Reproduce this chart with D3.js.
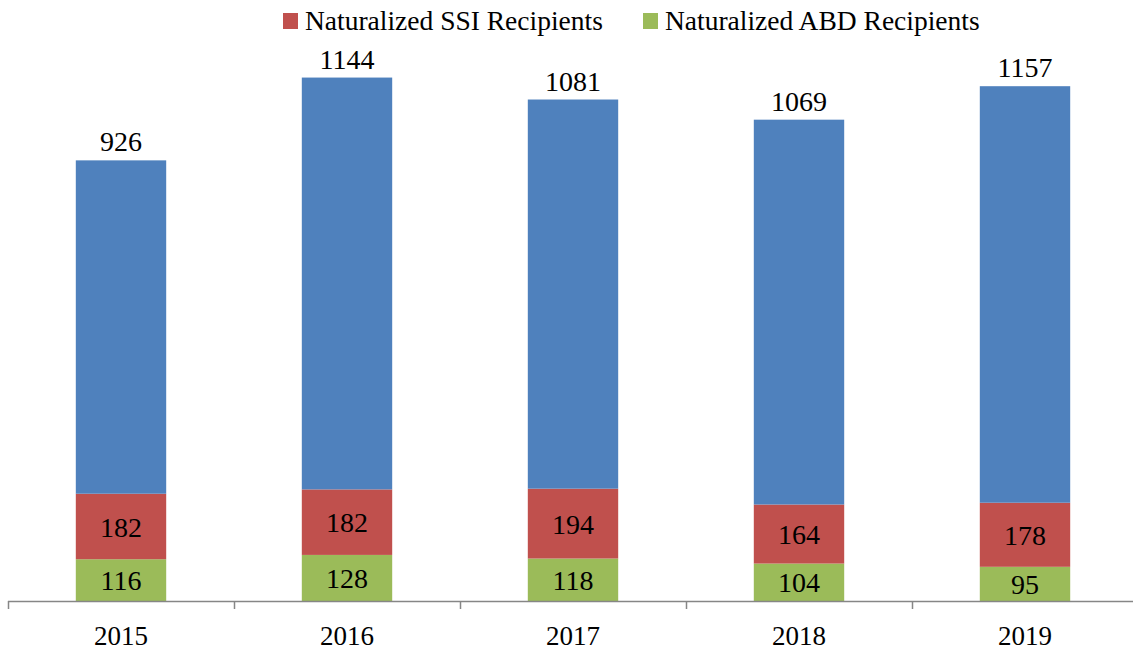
<!DOCTYPE html>
<html>
<head>
<meta charset="utf-8">
<script src="https://cdn.jsdelivr.net/npm/d3@7"></script>
<style>
  body { margin: 0; background: #fff; }
  text { font-family: "Liberation Serif", "Times New Roman", serif; fill: #000; }
</style>
</head>
<body>
<script>
// values
var years = ["2015", "2016", "2017", "2018", "2019"];
var abd = [116, 128, 118, 104, 95];       // Naturalized ABD Recipients (bottom)
var ssi = [182, 182, 194, 164, 178];      // Naturalized SSI Recipients (middle)
var other = [926, 1144, 1081, 1069, 1157]; // top segment, no legend entry
var legendNames = ["Naturalized SSI Recipients", "Naturalized ABD Recipients"];

var colors = { other: "#4F81BD", ssi: "#C0504D", abd: "#9BBB59" };

var width = 1133, height = 650;

var svg = d3.select("body").append("svg")
    .attr("width", width)
    .attr("height", height);

// scales
var x = d3.scaleBand()
    .domain(years)
    .range([8, 1138])
    .paddingInner(0.6)
    .paddingOuter(0.3);

var xCat = d3.scaleBand()
    .domain(years)
    .range([8, 1138]);

var y = d3.scaleLinear()
    .domain([0, 1600])
    .range([601, 25]);

// stack data
var rows = years.map(function(yr, i) {
  return { year: yr, abd: abd[i], ssi: ssi[i], other: other[i] };
});
var keys = ["abd", "ssi", "other"];
var series = d3.stack().keys(keys)(rows);

var layer = svg.selectAll(".layer")
    .data(series)
    .enter().append("g")
    .attr("class", "layer")
    .attr("fill", function(d) { return colors[d.key]; });

layer.selectAll("rect")
    .data(function(d) { return d; })
    .enter().append("rect")
    .attr("x", function(d) { return x(d.data.year); })
    .attr("width", x.bandwidth())
    .attr("y", function(d) { return y(d[1]); })
    .attr("height", function(d) { return y(d[0]) - y(d[1]); });

// labels inside the bottom two segments
series.slice(0, 2).forEach(function(s) {
  svg.append("g").selectAll("text")
      .data(s)
      .enter().append("text")
      .attr("x", function(d) { return x(d.data.year) + x.bandwidth() / 2; })
      .attr("y", function(d) { return (y(d[0]) + y(d[1])) / 2; })
      .attr("dy", "0.36em")
      .attr("text-anchor", "middle")
      .style("font-size", "28px")
      .text(function(d) { return d[1] - d[0]; });
});

// labels above the top segment
svg.append("g").selectAll("text")
    .data(series[2])
    .enter().append("text")
    .attr("x", function(d) { return x(d.data.year) + x.bandwidth() / 2; })
    .attr("y", function(d) { return y(d[1]) - 9; })
    .attr("text-anchor", "middle")
    .style("font-size", "28px")
    .text(function(d) { return d[1] - d[0]; });

// x axis: baseline with ticks between categories
var axis = svg.append("g").attr("class", "xaxis");
axis.append("line")
    .attr("x1", 8).attr("x2", width)
    .attr("y1", y(0) + 0.5).attr("y2", y(0) + 0.5)
    .attr("stroke", "#868686")
    .attr("stroke-width", 1.5);

axis.selectAll(".tick")
    .data(years)
    .enter().append("line")
    .attr("class", "tick")
    .attr("x1", function(d) { return Math.round(xCat(d)) + 0.5; })
    .attr("x2", function(d) { return Math.round(xCat(d)) + 0.5; })
    .attr("y1", y(0))
    .attr("y2", y(0) + 8)
    .attr("stroke", "#868686")
    .attr("stroke-width", 1.5);

axis.selectAll(".catlabel")
    .data(years)
    .enter().append("text")
    .attr("class", "catlabel")
    .attr("x", function(d) { return xCat(d) + xCat.bandwidth() / 2; })
    .attr("y", 645)
    .attr("text-anchor", "middle")
    .style("font-size", "27px")
    .text(function(d) { return d; });

// legend
var legendX = [283, 643];
var legendColors = [colors.ssi, colors.abd];
var legend = svg.selectAll(".legend")
    .data(legendNames)
    .enter().append("g")
    .attr("class", "legend")
    .attr("transform", function(d, i) { return "translate(" + legendX[i] + ",0)"; });

legend.append("rect")
    .attr("x", 0)
    .attr("y", 13)
    .attr("width", 15)
    .attr("height", 16)
    .attr("fill", function(d, i) { return legendColors[i]; });

legend.append("text")
    .attr("x", 22)
    .attr("y", 30)
    .style("font-size", "27.5px")
    .text(function(d) { return d; });
</script>
</body>
</html>
